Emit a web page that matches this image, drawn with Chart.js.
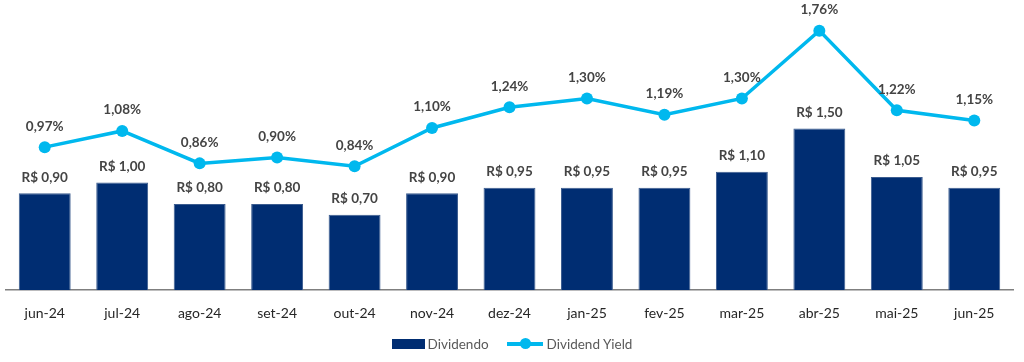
<!DOCTYPE html>
<html>
<head>
<meta charset="utf-8">
<script src="https://cdn.jsdelivr.net/npm/chart.js@4"></script>
<style>
  body { margin: 0; background: #fff; font-family: Lato, "Open Sans", sans-serif; }
  #wrap { position: relative; width: 1024px; height: 343px; }
  #legend { position: absolute; top: 334px; left: 0; width: 1024px; display: flex; justify-content: center; align-items: center; height: 20px; font-size: 13.5px; color: #595959; }
  .item { display: flex; align-items: center; margin: 0 9px; }
  .box { width: 33px; height: 10px; background: #002D72; margin-right: 3px; }
  .ln { position: relative; width: 36px; height: 4px; background: #00B8EE; margin-right: 4px; }
  .ln span { position: absolute; left: 13px; top: -4px; width: 11px; height: 11px; border-radius: 50%; background: #00B8EE; }
</style>
</head>
<body>
<div id="wrap"><canvas id="chart"></canvas></div>
<div id="legend">
  <div class="item"><div class="box"></div>Dividendo</div>
  <div class="item"><div class="ln"><span></span></div>Dividend Yield</div>
</div>
<script>
// Chart data
const months = ['jun-24', 'jul-24', 'ago-24', 'set-24', 'out-24', 'nov-24', 'dez-24', 'jan-25', 'fev-25', 'mar-25', 'abr-25', 'mai-25', 'jun-25'];
const dividendo = [0.90, 1.00, 0.80, 0.80, 0.70, 0.90, 0.95, 0.95, 0.95, 1.10, 1.50, 1.05, 0.95];
const dividendYield = [0.97, 1.08, 0.86, 0.90, 0.84, 1.10, 1.24, 1.30, 1.19, 1.30, 1.76, 1.22, 1.15];

const navy = '#002D72';
const cyan = '#00B8EE';
const labelColor = '#444444';

function fmt(v, dec) {
    return v.toFixed(dec).replace('.', ',');
}

// Draws the value labels above bars and line points
const valueLabels = {
    id: 'valueLabels',
    afterDatasetsDraw(chart) {
        const ctx = chart.ctx;
        ctx.save();
        ctx.font = 'bold 13.5px Lato, "Open Sans", sans-serif';
        ctx.fillStyle = labelColor;
        ctx.textAlign = 'center';
        ctx.textBaseline = 'middle';
        chart.data.datasets.forEach(function(ds, i) {
            const meta = chart.getDatasetMeta(i);
            meta.data.forEach(function(el, j) {
                const v = ds.data[j];
                if (ds.type === 'bar') {
                    ctx.fillText('R$ ' + fmt(v, 2), el.x, el.y - 16);
                } else {
                    ctx.fillText(fmt(v, 2) + '%', el.x, el.y - 21);
                }
            });
        });
        ctx.restore();
    }
};

const ctx = document.getElementById('chart').getContext('2d');
new Chart(ctx, {
    data: {
        labels: months,
        datasets: [
            {
                type: 'line',
                label: 'Dividend Yield',
                data: dividendYield,
                yAxisID: 'yPct',
                borderColor: cyan,
                backgroundColor: cyan,
                borderWidth: 3.5,
                pointRadius: 6,
                pointHoverRadius: 6,
                pointBackgroundColor: cyan,
                pointBorderWidth: 0,
                tension: 0,
                order: 0
            },
            {
                type: 'bar',
                label: 'Dividendo',
                data: dividendo,
                yAxisID: 'yDiv',
                backgroundColor: navy,
                borderColor: '#3B5C8F',
                borderWidth: { top: 1, left: 1, right: 1, bottom: 0 },
                barPercentage: 0.67,
                categoryPercentage: 1,
                order: 1
            }
        ]
    },
    options: {
        responsive: true,
        maintainAspectRatio: false,
        animation: false,
        layout: { padding: { left: 6, right: 11, top: 10, bottom: 6 } },
        plugins: {
            legend: { display: false },
            tooltip: { enabled: false }
        },
        scales: {
            x: {
                grid: { display: false, drawTicks: false },
                border: { display: true, color: '#7F7F7F', width: 1.5 },
                ticks: {
                    color: '#262626',
                    padding: 15,
                    font: { family: 'Lato, "Open Sans", sans-serif', size: 14 }
                }
            },
            yDiv: {
                display: false,
                min: 0,
                max: 2.6
            },
            yPct: {
                display: false,
                min: 0,
                max: 1.9
            }
        }
    },
    plugins: [valueLabels]
});
</script>
</body>
</html>
